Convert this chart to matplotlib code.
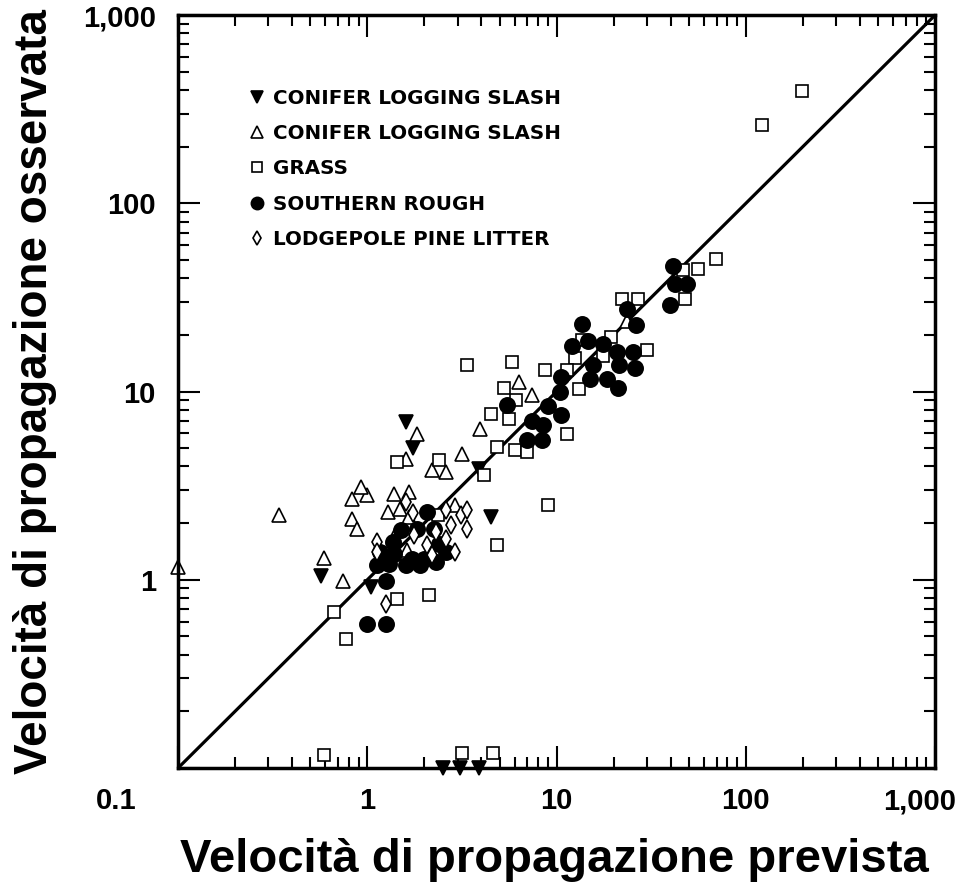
import matplotlib.pyplot as plt
from matplotlib.ticker import FixedLocator, LogLocator, NullFormatter
from matplotlib.transforms import ScaledTranslation

plt.rcParams['font.family'] = ['Liberation Sans', 'DejaVu Sans']
plt.rcParams['font.weight'] = 'bold'

slash_fill_x = [1.6, 1.75, 3.9, 4.5, 0.57, 1.05, 2.5, 3.1, 3.87]
slash_fill_y = [6.9, 5.0, 3.9, 2.15, 1.05, 0.92, 0.1, 0.1, 0.1]

slash_open_x = [0.1, 0.343, 0.59, 0.74, 0.83, 0.885, 0.83, 1.0, 0.93, 1.82, 1.61, 1.39, 1.67,
                1.28, 1.48, 1.67, 2.21, 2.62, 3.18, 3.92, 6.37, 7.38, 1.39, 1.63, 2.89, 23.7]
slash_open_y = [1.17, 2.22, 1.31, 0.98, 2.11, 1.87, 2.7, 2.83, 3.1, 5.97, 4.4, 2.87, 2.94,
                2.3, 2.38, 2.16, 3.84, 3.75, 4.68, 6.35, 11.3, 9.64, 1.69, 1.44, 2.5, 23.6]

grass_x = [199, 122, 69.4, 55.7, 46.4, 47.6, 22.1, 26.8, 29.9, 19.5, 13.6, 17.5, 12.5, 13.2,
           11.4, 8.64, 5.85, 3.38, 5.3, 6.14, 5.64, 4.53, 11.4, 4.82, 6.0, 7.02, 4.16, 8.96,
           1.44, 2.4, 4.82, 2.35, 1.44, 2.13, 0.67, 0.774, 0.59, 3.18, 4.59]
grass_y = [394, 260, 50.4, 44.6, 44, 31.2, 30.9, 31.2, 16.7, 19.6, 18.9, 15.4, 15.0, 10.3,
           13.1, 13.1, 14.4, 13.9, 10.4, 9.06, 7.18, 7.64, 5.98, 5.1, 4.91, 4.8, 3.62, 2.5,
           4.24, 4.35, 1.54, 2.22, 0.79, 0.83, 0.676, 0.486, 0.117, 0.12, 0.12]

rough_x = [41.1, 42.1, 48.7, 39.6, 23.7, 26.2, 13.7, 12.0, 14.6, 17.5, 20.8, 25.2, 15.5, 21.5,
           25.9, 18.4, 15.0, 21.0, 10.6, 10.4, 8.96, 10.6, 7.46, 8.43, 6.94, 8.33, 5.5,
           2.08, 1.51, 1.84, 2.26, 1.36, 2.4, 1.16, 1.39, 1.73, 2.0, 2.32, 1.13, 1.31, 1.61,
           1.9, 2.62, 1.26, 1.0, 1.26, 1.19]
rough_y = [46.2, 37.1, 37.1, 29.0, 27.6, 22.7, 23.0, 17.4, 18.5, 17.8, 16.3, 16.3, 13.9, 13.9,
           13.3, 11.6, 11.7, 10.4, 12.0, 10.0, 8.43, 7.55, 7.01, 6.68, 5.55, 5.55, 8.53,
           2.3, 1.85, 1.87, 1.87, 1.59, 1.55, 1.41, 1.37, 1.29, 1.29, 1.25, 1.2, 1.22, 1.2,
           1.2, 1.41, 0.98, 0.583, 0.583, 1.28]

litter_x = [1.12, 1.12, 1.61, 1.75, 2.62, 3.14, 3.38, 3.38, 2.78, 2.62, 2.92, 2.08, 2.21,
            1.77, 2.32, 1.26]
litter_y = [1.59, 1.41, 2.6, 2.27, 2.36, 2.22, 2.36, 1.87, 1.96, 1.65, 1.41, 1.54, 1.36,
            1.74, 1.8, 0.745]

tick_vals = [0.1, 1, 10, 100, 1000]
xtick_labels = ['0.1', '1', '10', '100', '1,000']
ytick_labels = ['', '1', '10', '100', '1,000']   # 0.1 shared at the corner

fig = plt.figure(figsize=(9.65, 8.91), dpi=100)
ax = fig.add_axes([0.1845, 0.138, 0.7845, 0.845])
ax.set_xscale('log')
ax.set_yscale('log')
ax.set_xlim(0.1, 1000)
ax.set_ylim(0.1, 1000)

# 1:1 line
ax.plot([0.1, 1000], [0.1, 1000], color='black', lw=2.3, zorder=1)

kw = dict(linestyle='none', clip_on=False, markeredgecolor='black', markeredgewidth=1.2)
ax.plot(slash_fill_x, slash_fill_y, marker='v', ms=10, color='black',
        label='CONIFER LOGGING SLASH', **kw)
ax.plot(slash_open_x, slash_open_y, marker='^', ms=10, markerfacecolor='white',
        label='CONIFER LOGGING SLASH', **kw)
ax.plot(grass_x, grass_y, marker='s', ms=9, markerfacecolor='white',
        label='GRASS', **kw)
ax.plot(rough_x, rough_y, marker='o', ms=11, color='black',
        label='SOUTHERN ROUGH', **kw)
ax.plot(litter_x, litter_y, marker='d', ms=9, markerfacecolor='white',
        label='LODGEPOLE PINE LITTER', **kw)

leg = ax.legend(loc='upper left', bbox_to_anchor=(0.07, 0.926), frameon=False,
                prop={'family': 'DejaVu Sans', 'weight': 'bold', 'size': 14.3},
                labelspacing=0.82, handlelength=0.8, handletextpad=0.4,
                markerscale=0.8)

for axis in (ax.xaxis, ax.yaxis):
    axis.set_major_locator(FixedLocator(tick_vals))
    axis.set_minor_locator(LogLocator(base=10, subs=range(2, 10)))
    axis.set_minor_formatter(NullFormatter())
ax.set_xticklabels(xtick_labels)
ax.set_yticklabels(ytick_labels)
ax.tick_params(which='both', direction='in', top=True, right=True, width=1.5,
               labelsize=21)
ax.tick_params(which='major', length=16)
ax.tick_params(axis='x', which='major', pad=14)
ax.tick_params(axis='y', which='major', pad=16)
ax.tick_params(which='minor', length=8)
for lab in ax.get_xticklabels() + ax.get_yticklabels():
    lab.set_fontweight('bold')
for s in ax.spines.values():
    s.set_linewidth(2.5)

# nudge the corner "0.1" left and the last "1,000" inward, as in the original
xlabs = ax.get_xticklabels()
xlabs[0].set_transform(xlabs[0].get_transform() + ScaledTranslation(-0.62, 0, fig.dpi_scale_trans))
xlabs[-1].set_transform(xlabs[-1].get_transform() + ScaledTranslation(-0.15, 0, fig.dpi_scale_trans))

fig.text(0.575, 0.035, 'Velocità di propagazione prevista', ha='center', va='center',
         fontsize=34, fontweight='bold')
fig.text(0.036, 0.56, 'Velocità di propagazione osservata', ha='center', va='center',
         rotation=90, fontsize=33, fontweight='bold')

fig.savefig('out.png', dpi=100)
